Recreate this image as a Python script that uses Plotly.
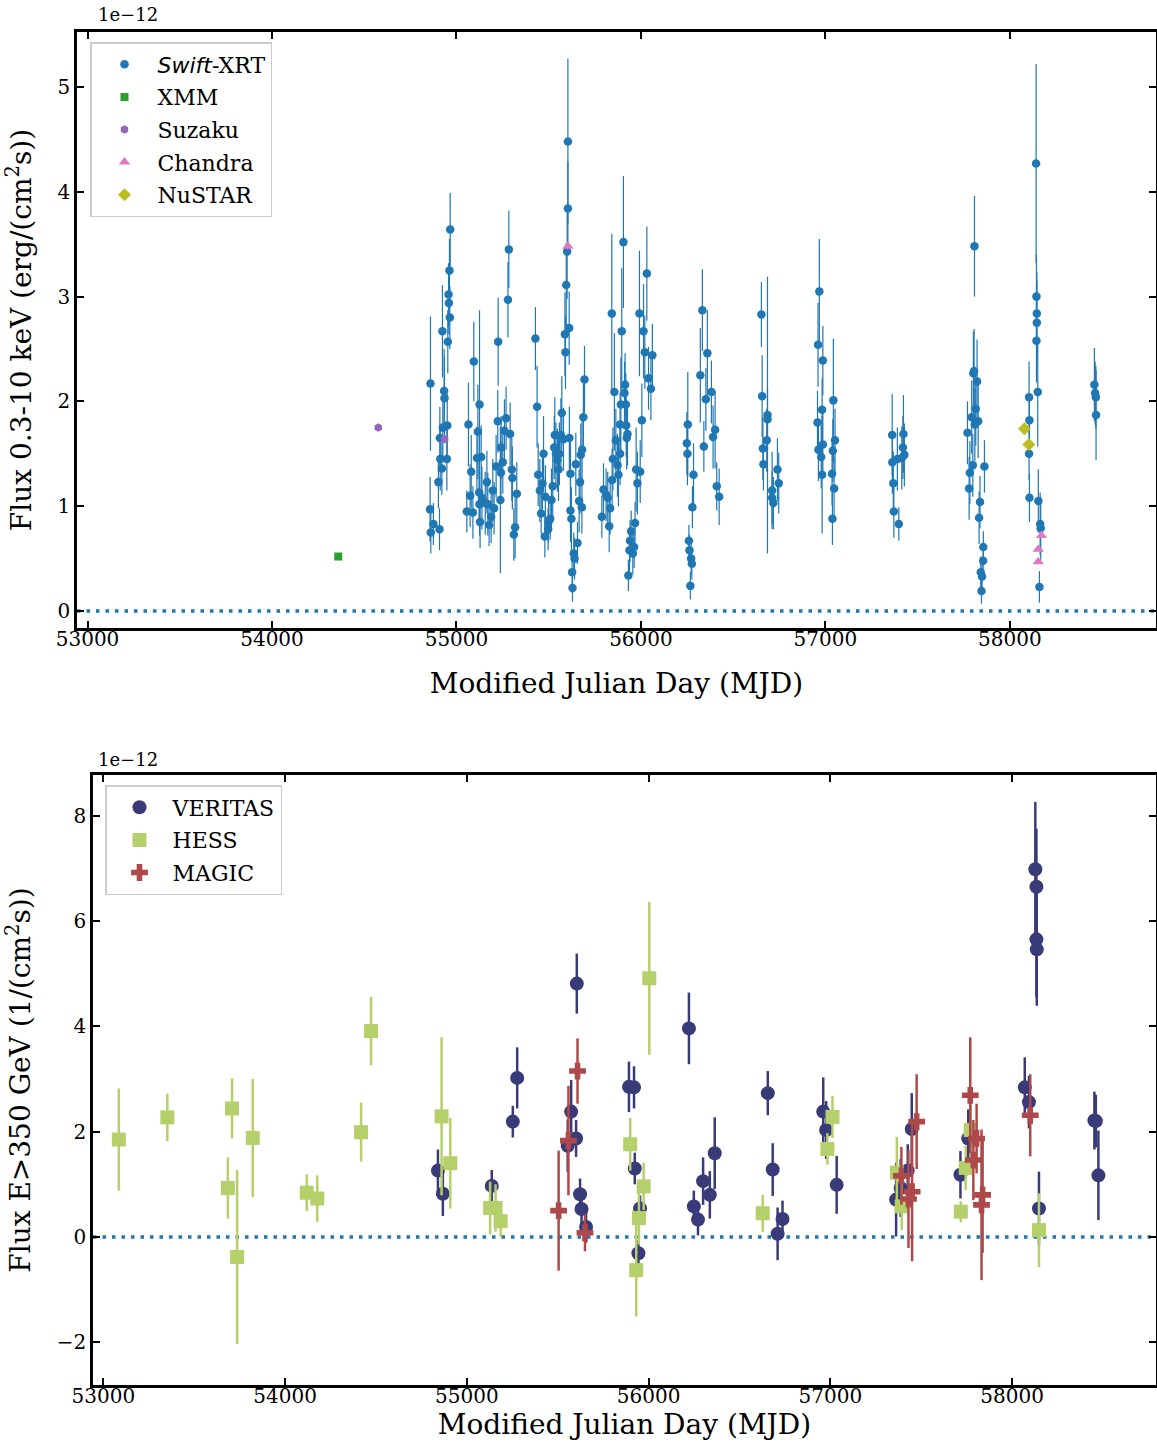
import plotly.graph_objects as go

# ---------------- X-ray (0.3-10 keV), units of 1e-12 erg/(cm^2 s) ----------------
swift_mjd = [
    54966, 54962, 54957, 54959, 54964, 54924, 54953, 54859, 54933, 54935, 54950, 54926, 54910, 54912, 54948, 54921, 54902, 54857, 54875, 54861, 54908,
    55094, 55125, 55065, 55116, 55111, 55134, 55080, 55074, 55056, 55089, 55165, 55123, 55138, 55125, 55156, 55170, 55128, 55177, 55188, 55204,
    55197, 55224, 55226, 55279, 55284, 55269, 55260, 55291, 55242, 55215, 55251, 55241, 55238, 55300, 55303, 55327, 55318, 55311,
    55428, 55437, 55443, 55452, 55459, 55466, 55472, 55479, 55482, 55497, 55499, 55508, 55515, 55522, 55530, 55533, 55539, 55547, 55553, 55558,
    55566, 55571, 55580, 55588, 55591, 55595, 55600, 55604, 55604, 55611, 55612, 55618, 55618, 55623, 55627, 55629, 55636, 55640, 55656, 55647,
    55665, 55670, 55674, 55681, 55680, 55688, 55694,
    55788, 55797, 55811, 55820, 55833, 55828, 55844, 55848, 55842, 55856, 55864, 55873, 55878, 55887, 55891, 55896, 55905, 55914, 55911, 55918,
    55920, 55923, 55927, 55887, 55932, 55938, 55941, 55947, 55956, 55963, 55968, 55974, 55981, 55996, 56005, 55992, 56014, 56021, 56032, 56041,
    56054, 56062,
    56254, 56249, 56252, 56285, 56279, 56260, 56263, 56272, 56276, 56268, 56322, 56333, 56341, 56352, 56360, 56382, 56391, 56402, 56411, 56424,
    56653, 56657, 56686, 56686, 56682, 56661, 56664, 56711, 56711, 56718, 56740, 56747,
    56967, 56960, 56986, 56982, 56957, 56986, 56962, 56977, 56982, 57043, 57052, 57040, 57036, 57047, 57038,
    57362, 57363, 57368, 57371, 57398, 57390, 57420, 57423, 57428, 57414,
    57808, 57802, 57806, 57822, 57815, 57793, 57810, 57828, 57770, 57799, 57783, 57779, 57862, 57838, 57833, 57856, 57855, 57842, 57849, 57846,
    58142, 58144, 58146, 58146, 58144, 58151, 58104, 58106, 58104, 58106, 58154, 58164, 58167, 58160,
    58458, 58462, 58466, 58467,
]
swift_flux = [
    3.64, 3.25, 3.02, 2.94, 2.80, 2.67, 2.57, 2.17, 2.10, 2.03, 1.77, 1.75, 1.65, 1.45, 1.45, 1.36, 1.23, 0.97, 0.83, 0.75, 0.78,
    2.38, 1.97, 1.78, 1.71, 1.46, 1.47, 1.33, 1.10, 0.95, 0.94, 1.23, 1.13, 1.08, 1.02, 1.03, 1.02, 0.85, 0.82, 0.90, 0.98,
    1.15, 1.81, 2.57, 2.97, 3.45, 1.84, 1.72, 1.69, 1.56, 1.38, 1.42, 1.32, 1.06, 1.35, 1.27, 1.12, 0.80, 0.73,
    2.60, 1.95, 1.30, 1.15, 0.93, 1.22, 1.50, 0.71, 1.09, 0.78, 0.85, 0.88, 1.06, 1.19, 1.56, 1.68, 1.50, 1.44, 1.35, 1.50,
    1.68, 1.89, 1.64, 2.64, 2.47, 3.11, 3.43, 3.84, 4.48, 2.70, 1.65, 1.31, 0.96, 0.88, 0.37, 0.22, 0.55, 0.50, 0.65, 1.40,
    1.05, 1.23, 1.49, 1.54, 0.99, 1.85, 2.21,
    0.90, 1.16, 1.11, 1.08, 0.98, 0.81, 1.25, 1.45, 2.84, 2.09, 1.63, 1.39, 1.30, 1.50, 1.97, 2.67, 3.52, 2.16, 2.08, 1.97,
    1.77, 1.65, 1.69, 1.78, 0.34, 0.58, 0.67, 0.76, 0.55, 0.61, 0.84, 1.35, 1.22, 1.33, 1.82, 2.84, 2.67, 2.47, 3.22, 2.22,
    2.12, 2.44,
    1.78, 1.60, 1.50, 1.30, 0.99, 0.67, 0.58, 0.50, 0.45, 0.24, 2.25, 2.87, 1.57, 2.02, 2.46, 2.09, 1.66, 1.73, 1.19, 1.09,
    2.83, 2.05, 1.87, 1.83, 1.63, 1.55, 1.40, 1.15, 1.08, 1.03, 1.35, 1.22,
    3.05, 2.54, 2.39, 1.92, 1.80, 1.59, 1.54, 1.47, 1.30, 2.01, 1.63, 1.53, 1.31, 1.17, 0.88,
    1.68, 1.42, 1.22, 0.95, 0.83, 1.45, 1.56, 1.69, 1.49, 1.46,
    3.48, 2.27, 2.29, 2.19, 1.93, 1.85, 1.78, 1.81, 1.70, 1.39, 1.32, 1.17, 1.38, 1.04, 0.89, 0.61, 0.48, 0.37, 0.33, 0.19,
    4.27, 3.00, 2.84, 2.75, 2.58, 2.09, 2.04, 1.82, 1.50, 1.08, 1.05, 0.83, 0.79, 0.23,
    2.16, 2.08, 2.04, 1.87,
]
swift_err = [
    0.35, 0.30, 0.30, 0.30, 0.30, 0.44, 0.30, 0.64, 0.40, 0.40, 0.30, 0.30, 0.30, 0.30, 0.30, 0.25, 0.25, 0.31, 0.20, 0.20, 0.20,
    0.38, 0.90, 0.40, 0.45, 0.30, 0.30, 0.35, 0.30, 0.20, 0.25, 0.30, 0.30, 0.30, 0.30, 0.30, 0.30, 0.25, 0.20, 0.25, 0.25,
    0.30, 0.30, 0.42, 0.36, 0.37, 0.30, 0.30, 0.30, 0.30, 0.30, 0.30, 0.30, 0.70, 0.30, 0.30, 0.30, 0.30, 0.25,
    0.30, 0.39, 0.30, 0.30, 0.20, 0.25, 0.36, 0.20, 0.30, 0.20, 0.20, 0.20, 0.30, 0.30, 0.30, 0.36, 0.30, 0.30, 0.30, 0.30,
    0.35, 0.35, 0.30, 0.40, 0.35, 0.40, 0.45, 0.45, 0.79, 0.35, 0.30, 0.30, 0.30, 0.30, 0.20, 0.13, 0.20, 0.20, 0.20, 0.30,
    0.30, 0.30, 0.30, 0.30, 0.25, 0.32, 0.32,
    0.20, 0.25, 0.25, 0.25, 0.25, 0.25, 0.30, 0.30, 0.76, 0.56, 0.30, 0.30, 0.30, 0.30, 0.45, 0.60, 0.63, 0.30, 0.30, 0.30,
    0.30, 0.30, 0.30, 0.30, 0.15, 0.20, 0.20, 0.20, 0.20, 0.20, 0.20, 0.40, 0.30, 0.30, 0.35, 0.60, 0.45, 0.35, 0.45, 0.30,
    0.30, 0.30,
    0.50, 0.30, 0.30, 0.30, 0.20, 0.15, 0.15, 0.15, 0.15, 0.13, 0.45, 0.39, 0.24, 0.30, 0.41, 0.30, 0.30, 0.37, 0.23, 0.27,
    0.31, 0.39, 1.32, 0.30, 0.30, 0.30, 0.25, 0.37, 0.25, 0.25, 0.30, 0.29,
    0.50, 0.40, 0.33, 0.30, 0.30, 0.30, 0.30, 0.30, 0.56, 0.59, 0.30, 0.30, 0.30, 0.30, 0.25,
    0.39, 0.30, 0.30, 0.25, 0.16, 0.30, 0.30, 0.37, 0.30, 0.30,
    0.48, 0.40, 0.40, 0.40, 0.35, 0.35, 0.35, 0.35, 0.30, 0.30, 0.30, 0.30, 0.25, 0.25, 0.25, 0.15, 0.15, 0.15, 0.12, 0.12,
    0.95, 0.40, 0.40, 0.40, 0.40, 0.52, 0.34, 0.25, 0.25, 0.23, 0.30, 0.30, 0.30, 0.15,
    0.35, 0.30, 0.30, 0.43,
]
xmm_mjd = [54359]
xmm_flux = [0.52]
xmm_err = [0.02]
suzaku_mjd = [54576, 54936]
suzaku_flux = [1.75, 1.64]
suzaku_err = [0.03, 0.03]
chandra_mjd = [55604, 58171, 58154, 58154]
chandra_flux = [3.48, 0.72, 0.59, 0.47]
chandra_err = [0.03, 0.02, 0.02, 0.02]
nustar_mjd = [58079, 58103]
nustar_flux = [1.74, 1.59]
nustar_err = [0.02, 0.02]

# ---------------- VHE (E>350 GeV), units of 1e-12 1/(cm^2 s) ----------------
veritas_mjd = [54841, 54868, 55137, 55253, 55277, 55555, 55574, 55601, 55605, 55623, 55631, 55656,
               55892, 55920, 55924, 55953, 55944, 56222, 56249, 56272, 56300, 56337, 56364,
               56656, 56683, 56710, 56737, 56961, 56977, 57035, 57362, 57387, 57426, 57448,
               57716, 57759, 58070, 58093, 58128, 58134, 58134, 58136, 58148, 58453, 58461, 58475]
veritas_flux = [1.26, 0.82, 0.97, 2.19, 3.02, 1.73, 2.38, 1.87, 4.81, 0.81, 0.53, 0.19,
                2.85, 2.84, 1.30, 0.54, -0.31, 3.96, 0.58, 0.33, 1.06, 0.80, 1.59,
                2.73, 1.28, 0.06, 0.34, 2.38, 2.03, 0.99, 0.71, 0.93, 1.26, 2.05,
                1.18, 1.87, 2.84, 2.56, 6.98, 6.65, 5.65, 5.46, 0.54, 2.21, 2.20, 1.17]
veritas_err = [0.40, 0.42, 0.30, 0.30, 0.58, 0.50, 0.60, 0.35, 0.57, 0.30, 0.30, 0.30,
               0.48, 0.40, 0.30, 0.25, 0.25, 0.68, 0.30, 0.30, 0.45, 0.45, 0.68,
               0.42, 0.50, 0.50, 0.35, 0.65, 0.55, 0.55, 0.70, 0.55, 0.50, 0.68,
               0.45, 0.55, 0.57, 0.50, 1.28, 1.10, 1.10, 1.07, 0.70, 0.55, 0.50, 0.85]
hess_mjd = [53085, 53352, 53685, 53708, 53736, 53822, 54119, 54177, 54418, 54473, 54861, 54909,
            55128, 55158, 55186, 55899, 55932, 55947, 55973, 56004, 56628, 56984, 57012,
            57366, 57393, 57718, 57745, 57772, 58148]
hess_flux = [1.85, 2.27, 0.93, 2.44, -0.38, 1.88, 0.84, 0.73, 1.99, 3.91, 2.29, 1.40,
             0.55, 0.55, 0.30, 1.76, -0.63, 0.36, 0.96, 4.91, 0.45, 1.67, 2.28,
             1.22, 0.58, 0.48, 1.31, 2.03, 0.13]
hess_err = [0.97, 0.45, 0.58, 0.57, 1.65, 1.12, 0.35, 0.44, 0.56, 0.65, 1.50, 0.86,
            0.50, 0.45, 0.30, 0.50, 0.88, 0.50, 0.45, 1.45, 0.35, 0.30, 0.40,
            0.68, 0.45, 0.20, 0.42, 0.50, 0.70]
magic_mjd = [55505, 55559, 55609, 55650, 57391, 57430, 57450, 57475, 57770, 57787, 57805, 57838, 57832, 58100]
magic_flux = [0.50, 1.83, 3.15, 0.08, 1.16, 0.72, 0.86, 2.19, 2.69, 1.46, 1.87, 0.80, 0.61, 2.31]
magic_err = [1.14, 1.04, 0.62, 0.35, 0.55, 0.93, 1.32, 0.90, 1.10, 0.76, 0.66, 1.10, 1.43, 0.78]

top_yticks = [0, 1, 2, 3, 4, 5]
bot_yticks = [-2, 0, 2, 4, 6, 8]
bot_yticktext = ["\u22122", "0", "2", "4", "6", "8"]
xticks = [53000, 54000, 55000, 56000, 57000, 58000]
xticktext = ["53000", "54000", "55000", "56000", "57000", "58000"]

assert len(swift_mjd) == len(swift_flux) == len(swift_err)
assert len(veritas_mjd) == len(veritas_flux) == len(veritas_err)
assert len(hess_mjd) == len(hess_flux) == len(hess_err)
assert len(magic_mjd) == len(magic_flux) == len(magic_err)

FONT = "DejaVu Serif"
W, H = 1157, 1442

fig = go.Figure()


def add(x, y, e, name, color, symbol, size, thick, axes, legend, group):
    fig.add_trace(go.Scatter(
        x=x, y=y, mode="markers", name=name,
        marker=dict(color=color, symbol=symbol, size=size, line=dict(width=0)),
        error_y=dict(type="data", array=e, visible=True, color=color, thickness=thick, width=0),
        xaxis=axes[0], yaxis=axes[1], legend=legend, legendgroup=group,
    ))


top = ("x", "y")
bot = ("x2", "y2")
add(swift_mjd, swift_flux, swift_err, "<i style='font-family:DejaVu Sans'>Swift</i>-XRT", "#1f77b4", "circle", 8.5, 1.2, top, "legend", "a")
add(xmm_mjd, xmm_flux, xmm_err, "XMM", "#2ca02c", "square", 8, 1.2, top, "legend", "b")
add(suzaku_mjd, suzaku_flux, suzaku_err, "Suzaku", "#9467bd", "hexagon", 8.5, 1.2, top, "legend", "c")
add(chandra_mjd, chandra_flux, chandra_err, "Chandra", "#e377c2", "triangle-up", 10, 1.2, top, "legend", "d")
add(nustar_mjd, nustar_flux, nustar_err, "NuSTAR", "#bcbd22", "diamond", 10, 1.2, top, "legend", "e")

add(veritas_mjd, veritas_flux, veritas_err, "VERITAS", "#393b79", "circle", 14, 2.5, bot, "legend2", "f")
add(hess_mjd, hess_flux, hess_err, "HESS", "#b5cf6b", "square", 14, 2.5, bot, "legend2", "g")
add(magic_mjd, magic_flux, magic_err, "MAGIC", "#ad494a", "cross", 14, 2.5, bot, "legend2", "h")

axis_common = dict(
    showline=True, linewidth=2.5, linecolor="black", mirror="allticks",
    ticks="inside", ticklen=7, tickwidth=2, tickcolor="black", automargin=False,
    showgrid=False, zeroline=False, tickfont=dict(size=20, family=FONT, color="black"),
)
xrange = [52943, 58792]
title_font = dict(size=28, family=FONT, color="black")

fig.update_layout(
    width=W, height=H,
    margin=dict(l=0, r=0, t=0, b=0, autoexpand=False),
    paper_bgcolor="white", plot_bgcolor="white",
    font=dict(family=FONT, color="black", size=20),
    xaxis=dict(domain=[77 / W, 1156 / W], anchor="y", range=xrange, tickvals=xticks, ticktext=xticktext,
               ticklabelstandoff=-9,
               title=dict(text="Modified Julian Day (MJD)", font=title_font, standoff=24), **axis_common),
    yaxis=dict(domain=[1 - 628 / H, 1 - 32 / H], anchor="x", range=[-0.162, 5.525], tickvals=top_yticks,
               title=dict(text="Flux 0.3-10 keV (erg/(cm<sup>2</sup>s))", font=title_font, standoff=18), **axis_common),
    xaxis2=dict(domain=[93 / W, 1156 / W], anchor="y2", range=xrange, tickvals=xticks, ticktext=xticktext,
                ticklabelstandoff=-9,
                title=dict(text="Modified Julian Day (MJD)", font=title_font, standoff=8), **axis_common),
    yaxis2=dict(domain=[1 - 1385 / H, 1 - 775 / H], anchor="x2", range=[-2.81, 8.77], tickvals=bot_yticks,
                ticktext=bot_yticktext,
                title=dict(text="Flux E>350 GeV (1/(cm<sup>2</sup>s))", font=title_font, standoff=18), **axis_common),
    legend=dict(x=90 / W, y=1 - 42 / H, xanchor="left", yanchor="top",
                bgcolor="rgba(255,255,255,0.8)", bordercolor="#cccccc", borderwidth=1.5,
                font=dict(size=22, family=FONT), tracegroupgap=1, itemwidth=56),
    legend2=dict(x=105 / W, y=1 - 785 / H, xanchor="left", yanchor="top",
                 bgcolor="rgba(255,255,255,0.8)", bordercolor="#cccccc", borderwidth=1.5,
                 font=dict(size=22, family=FONT), tracegroupgap=1, itemwidth=56),
    showlegend=True,
)

for yref in ("y", "y2"):
    fig.add_shape(type="line", xref=("x domain" if yref == "y" else "x2 domain"), yref=yref,
                  x0=0, x1=1, y0=0, y1=0, layer="below",
                  line=dict(color="#1f77b4", width=3.5, dash="3.5px,6px"))

fig.add_annotation(text="1e\u221212", xref="paper", yref="paper", x=96 / W, y=1 - 15 / H,
                   xanchor="left", yanchor="middle", showarrow=False, font=dict(size=18, family=FONT))
fig.add_annotation(text="1e\u221212", xref="paper", yref="paper", x=96 / W, y=1 - 759 / H,
                   xanchor="left", yanchor="middle", showarrow=False, font=dict(size=18, family=FONT))

fig.write_html("out.html", config={"displayModeBar": False},
               post_script="document.body.style.margin='0';document.body.style.overflow='hidden';")
